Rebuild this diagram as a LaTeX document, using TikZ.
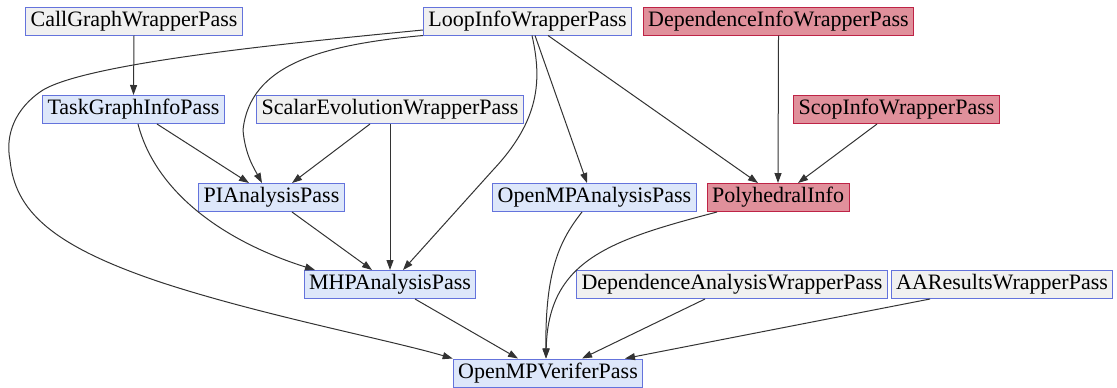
\documentclass[tikz,border=0pt]{standalone}
\usepackage{fontspec}
\setmainfont{Liberation Serif}
\usetikzlibrary{arrows.meta}
\definecolor{passline}{RGB}{100,115,220}
\definecolor{passfill}{RGB}{221,231,250}
\definecolor{pollyline}{RGB}{190,35,70}
\definecolor{pollyfill}{RGB}{224,144,155}
\begin{document}
\begin{tikzpicture}[
      x=0.5pt, y=-0.5pt,
      every node/.style={font=\fontsize{11}{13}\selectfont},
      pass/.style={draw=passline, line width=0.5pt, inner xsep=2.5pt, inner ysep=2pt,
                   text height=7.6pt, text depth=2.4pt},
      wrapper/.style={pass, fill=gray!12},
      analysis/.style={pass, fill=passfill},
      polly/.style={pass, draw=pollyline, fill=pollyfill},
      dep/.style={draw=black!80, line width=0.5pt, -{Triangle[length=5pt,width=3.5pt]}}
    ]
    \useasboundingbox (0,0) rectangle (1117,387);

    % Linha de cima
    \node[wrapper] (cgw) at (134,21) {CallGraphWrapperPass};
    \node[wrapper] (liw) at (527.5,21) {LoopInfoWrapperPass};
    \node[polly] (diw) at (778.5,21) {DependenceInfoWrapperPass};

    % Segunda linha
    \node[analysis] (tgi) at (133.5,109.5) {TaskGraphInfoPass};
    \node[wrapper] (sew) at (390,109.5) {ScalarEvolutionWrapperPass};
    \node[polly] (siw) at (896.5,109.5) {ScopInfoWrapperPass};

    % Terceira linha
    \node[analysis] (pia) at (271.5,197.5) {PIAnalysisPass};
    \node[analysis] (oma) at (594.5,197.5) {OpenMPAnalysisPass};
    \node[polly] (phi) at (778,197.5) {PolyhedralInfo};

    % Quarta linha
    \node[analysis] (mhp) at (390,284.5) {MHPAnalysisPass};
    \node[wrapper] (daw) at (732,284.5) {DependenceAnalysisWrapperPass};
    \node[wrapper] (aar) at (1002,284.5) {AAResultsWrapperPass};

    % Verificador
    \node[analysis] (omv) at (548,373) {OpenMPVeriferPass};

    % Arestas de cima
    \draw[dep] (cgw.south) -- (tgi.north);
    \draw[dep] ([yshift=-4.5pt]liw.west)
      .. controls (300,42) and (90,62) .. (43,90)
      .. controls (15,108) and (5,135) .. (10,160)
      .. controls (15,210) and (50,245) .. (160,282)
      .. controls (260,315) and (390,340) .. (omv.north west);
    \draw[dep] (liw.south west)
      .. controls (320,45) and (250,65) .. (243,130)
      .. controls (245,155) and (255,170) .. ([xshift=-4.75pt]pia.north);
    \draw[dep] ([xshift=2.25pt]liw.south)
      .. controls (542,80) and (540,120) .. (493,170)
      -- ([xshift=6.5pt]mhp.north);
    \draw[dep] ([xshift=3.75pt]liw.south) -- ([xshift=-3.75pt]oma.north);
    \draw[dep] ([xshift=10.25pt]liw.south) -- ([xshift=-10pt]phi.north);
    \draw[dep] (diw.south) -- (phi.north);
    \draw[dep] ([xshift=-9.75pt]siw.south) -- ([xshift=10pt]phi.north);

    % Arestas do meio
    \draw[dep] ([xshift=11.75pt]tgi.south) -- ([xshift=-11.25pt]pia.north);
    \draw[dep] ([xshift=2.25pt]tgi.south)
      .. controls (155,190) and (220,240) .. ([xshift=-37.5pt]mhp.north);
    \draw[dep] ([xshift=-10pt]sew.south) -- ([xshift=10.25pt]pia.north);
    \draw[dep] (sew.south) -- (mhp.north);
    \draw[dep] ([xshift=10.25pt]pia.south) -- ([xshift=-9pt]mhp.north);

    % Arestas de baixo
    \draw[dep] ([xshift=-6.25pt]oma.south)
      .. controls (560,240) and (545,270) .. ([xshift=-1pt]omv.north);
    \draw[dep] ([xshift=-30.5pt]phi.south)
      .. controls (610,240) and (548,260) .. ([xshift=-1pt]omv.north);
    \draw[dep] ([xshift=12.5pt]mhp.south) -- ([xshift=-15pt]omv.north);
    \draw[dep] ([xshift=-13.5pt]daw.south) -- ([xshift=17pt]omv.north);
    \draw[dep] ([xshift=-36pt]aar.south) -- ([xshift=38.5pt]omv.north);
  \end{tikzpicture}
\end{document}
